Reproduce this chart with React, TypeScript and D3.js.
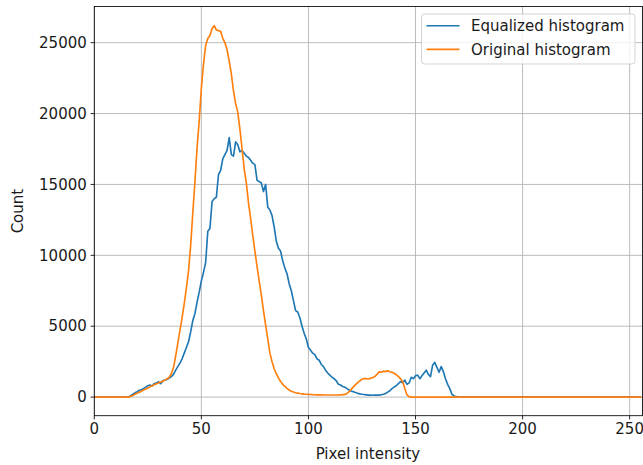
import React from "react";
import * as d3 from "d3";

const intensities: number[] = Array.from({ length: 256 }, (_, i) => i);

const equalized: number[] = [
  0, 0, 0, 0, 0, 0, 0, 0, 0, 0, 0, 0, 0, 0, 0, 0, 0, 100, 200, 300,
  380, 480, 520, 600, 700, 800, 850, 780, 950, 1000, 1080, 950, 1150, 1200, 1250, 1350, 1450, 1600, 1900, 2150,
  2400, 2700, 3100, 3500, 3900, 4600, 5400, 5900, 6700, 7400, 8200, 8800, 9500, 11700, 11900, 13800, 14000, 14100, 15700, 16000,
  16800, 17100, 17400, 18300, 17100, 17000, 18000, 17800, 17300, 17400, 17200, 17000, 16900, 16700, 16500, 16400, 15300, 15200, 15100, 14500,
  15000, 13400, 13200, 12800, 12000, 11000, 10500, 10300, 9600, 9100, 8700, 8000, 7500, 6800, 6100, 6000, 5600, 5000, 4500, 4100,
  3500, 3300, 3100, 3000, 2700, 2600, 2300, 2150, 1900, 1700, 1550, 1400, 1300, 1150, 900, 850, 750, 700, 600, 500,
  420, 380, 320, 270, 230, 200, 180, 160, 140, 150, 130, 140, 150, 140, 170, 200, 250, 350, 450, 600,
  700, 800, 950, 1100, 1000, 1200, 900, 1000, 1400, 1300, 1500, 1550, 1300, 1500, 1700, 1900, 1600, 1450, 2250, 2450,
  2100, 1750, 2150, 1800, 1300, 900, 600, 200, 80, 30, 0, 0, 0, 0, 0, 0, 0, 0, 0, 0,
  0, 0, 0, 0, 0, 0, 0, 0, 0, 0, 0, 0, 0, 0, 0, 0, 0, 0, 0, 0,
  0, 0, 0, 0, 0, 0, 0, 0, 0, 0, 0, 0, 0, 0, 0, 0, 0, 0, 0, 0,
  0, 0, 0, 0, 0, 0, 0, 0, 0, 0, 0, 0, 0, 0, 0, 0, 0, 0, 0, 0,
  0, 0, 0, 0, 0, 0, 0, 0, 0, 0, 0, 0, 0, 0, 0, 0,
];

const original: number[] = [
  0, 0, 0, 0, 0, 0, 0, 0, 0, 0, 0, 0, 0, 0, 0, 0, 0, 50, 120, 200,
  280, 350, 420, 500, 580, 650, 720, 800, 870, 940, 1000, 1060, 1120, 1200, 1290, 1400, 1650, 2100, 2900, 3800,
  4700, 5600, 6600, 7700, 8900, 10700, 13000, 15200, 17600, 19500, 21800, 23500, 24800, 25300, 25500, 26000, 26200, 25900, 25850, 25800,
  25300, 25000, 24500, 23700, 22800, 21600, 20700, 20100, 18900, 17500, 16100, 15100, 13700, 12600, 11400, 10300, 9200, 8200, 7200, 6100,
  5100, 4100, 3100, 2500, 2000, 1650, 1350, 1100, 900, 750, 620, 500, 420, 360, 310, 280, 250, 230, 210, 200,
  190, 180, 170, 165, 160, 160, 155, 150, 150, 150, 150, 150, 150, 150, 150, 160, 170, 190, 260, 380,
  560, 720, 880, 1020, 1150, 1260, 1310, 1300, 1280, 1320, 1380, 1450, 1600, 1780, 1750, 1830, 1800, 1850, 1780, 1750,
  1680, 1580, 1450, 1300, 1080, 600, 150, 30, 0, 0, 0, 0, 0, 0, 0, 0, 0, 0, 0, 0,
  0, 0, 0, 0, 0, 0, 0, 0, 0, 0, 0, 0, 0, 0, 0, 0, 0, 0, 0, 0,
  0, 0, 0, 0, 0, 0, 0, 0, 0, 0, 0, 0, 0, 0, 0, 0, 0, 0, 0, 0,
  0, 0, 0, 0, 0, 0, 0, 0, 0, 0, 0, 0, 0, 0, 0, 0, 0, 0, 0, 0,
  0, 0, 0, 0, 0, 0, 0, 0, 0, 0, 0, 0, 0, 0, 0, 0, 0, 0, 0, 0,
  0, 0, 0, 0, 0, 0, 0, 0, 0, 0, 0, 0, 0, 0, 0, 0,
];

const xTicks: number[] = [0, 50, 100, 150, 200, 250];
const yTicks: number[] = [0, 5000, 10000, 15000, 20000, 25000];
const seriesNames: string[] = ["Equalized histogram", "Original histogram"];
const seriesColors: string[] = ["#1f77b4", "#ff7f0e"];

const W = 643;
const H = 465;
const L = 94.3;
const R = 642.5;
const T = 6.5;
const B = 415.7;
const FONT = "'DejaVu Sans', sans-serif";
const FS = 15;

export default function App() {
  const x = d3.scaleLinear().domain([0, 256]).range([L, R]);
  const y = d3.scaleLinear().domain([-1312, 27552]).range([B, T]);
  const line = d3
    .line<number>()
    .x((_, i) => x(intensities[i]))
    .y((d) => y(d));
  const series = [equalized, original];

  return (
    <svg
      width={W}
      height={H}
      style={{ position: "absolute", left: 0, top: 0, background: "#fff" }}
      fontFamily={FONT}
    >
      <defs>
        <clipPath id="plot">
          <rect x={L} y={T} width={R - L} height={B - T} />
        </clipPath>
      </defs>
      <rect x={0} y={0} width={W} height={H} fill="#fff" />
      <g stroke="#b0b0b0" strokeWidth={0.85}>
        {xTicks.map((t) => (
          <line key={"gx" + t} x1={x(t)} x2={x(t)} y1={T} y2={B} />
        ))}
        {yTicks.map((t) => (
          <line key={"gy" + t} x1={L} x2={R} y1={y(t)} y2={y(t)} />
        ))}
      </g>
      <g clipPath="url(#plot)" fill="none" strokeWidth={1.65} strokeLinejoin="round" strokeLinecap="square">
        {series.map((s, k) => (
          <path key={k} d={line(s) || ""} stroke={seriesColors[k]} />
        ))}
      </g>
      <g stroke="#000" strokeWidth={0.85} fill="none">
        <rect x={L} y={T} width={R - L} height={B - T} />
      </g>
      <g stroke="#000" strokeWidth={0.85}>
        {xTicks.map((t) => (
          <line key={"tx" + t} x1={x(t)} x2={x(t)} y1={B} y2={B + 3.7} />
        ))}
        {yTicks.map((t) => (
          <line key={"ty" + t} x1={L - 3.7} x2={L} y1={y(t)} y2={y(t)} />
        ))}
      </g>
      <g fontSize={FS} fill="#1a1a1a">
        {xTicks.map((t) => (
          <text key={"lx" + t} x={x(t)} y={B + 7.5} dominantBaseline="hanging" textAnchor="middle">
            {t}
          </text>
        ))}
        {yTicks.map((t) => (
          <text key={"ly" + t} x={L - 7.5} y={y(t)} dy="0.35em" textAnchor="end">
            {t}
          </text>
        ))}
        <text x={(L + R) / 2 - 0.5} y={459} textAnchor="middle">
          Pixel intensity
        </text>
        <text transform={`translate(23,${(T + B) / 2}) rotate(-90)`} textAnchor="middle">
          Count
        </text>
      </g>
      <g>
        <rect x={421.5} y={14} width={213.5} height={50} rx={3} fill="#fff" fillOpacity={0.8} stroke="#cccccc" strokeWidth={0.85} />
        {seriesNames.map((n, k) => (
          <g key={n}>
            <line x1={426.5} x2={459.5} y1={25.7 + k * 23.6} y2={25.7 + k * 23.6} stroke={seriesColors[k]} strokeWidth={1.65} />
            <text x={471} y={25.7 + k * 23.6} dy="0.35em" fontSize={FS} fill="#1a1a1a">
              {n}
            </text>
          </g>
        ))}
      </g>
    </svg>
  );
}
